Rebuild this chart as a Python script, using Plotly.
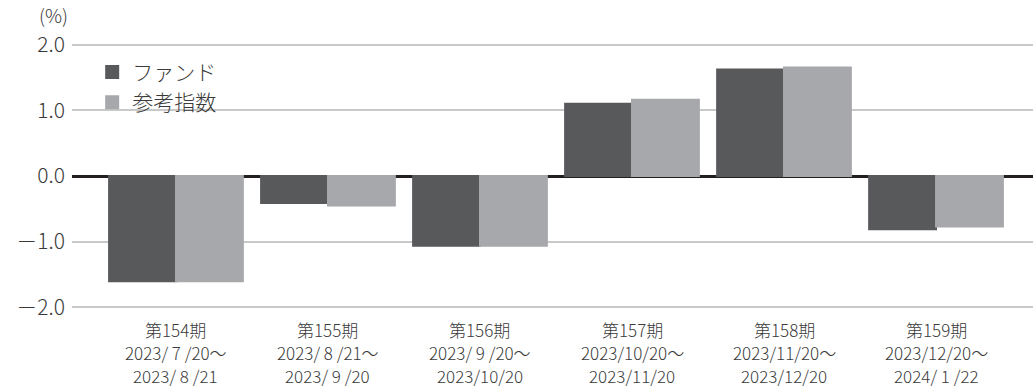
import plotly.graph_objects as go

periods = ["第154期", "第155期", "第156期", "第157期", "第158期", "第159期"]
start_dates = ["2023/ 7 /20～", "2023/ 8 /21～", "2023/ 9 /20～",
               "2023/10/20～", "2023/11/20～", "2023/12/20～"]
end_dates = ["2023/ 8 /21", "2023/ 9 /20", "2023/10/20",
             "2023/11/20", "2023/12/20", "2024/ 1 /22"]
fund = [-1.60, -0.41, -1.06, 1.10, 1.62, -0.81]
bench = [-1.60, -0.45, -1.06, 1.16, 1.65, -0.77]
ytick_vals = [-2, -1, 0, 1, 2]
ytick_text = ["－2.0", "－1.0", "0.0", "1.0", "2.0"]

FONT = "Noto Sans CJK JP"
TXT = "#3a3a3a"
FUND_C = "#58595b"
BENCH_C = "#a7a8ab"

fig = go.Figure()
fig.add_trace(go.Bar(x=periods, y=fund, name="ファンド",
                     marker=dict(color=FUND_C, line=dict(width=2, color=FUND_C))))
fig.add_trace(go.Bar(x=periods, y=bench, name="参考指数",
                     marker=dict(color=BENCH_C, line=dict(width=2, color=BENCH_C))))

annotations = []
for p, s, e in zip(periods, start_dates, end_dates):
    for k, t in enumerate([p, s, e]):
        annotations.append(dict(x=p, xref="x", y=0, yref="paper",
                                text=t, showarrow=False, yanchor="middle",
                                xanchor="center", yshift=-15 - 23 * k,
                                font=dict(family=FONT, size=17, color=TXT, weight=300)))
annotations.append(dict(x=-72 / 961, xref="paper", y=1, yref="paper",
                        xanchor="left", yanchor="bottom", yshift=8, xshift=37,
                        text="(%)", showarrow=False,
                        font=dict(family=FONT, size=19, color=TXT, weight=300)))

fig.update_layout(
    width=1033, height=387,
    margin=dict(l=72, r=0, t=38, b=73),
    paper_bgcolor="white", plot_bgcolor="white",
    barmode="group", bargap=0.12, bargroupgap=0,
    font=dict(family=FONT, color=TXT, weight=300),
    showlegend=True,
    legend=dict(x=0.021, xanchor="left", y=0.95, yanchor="top",
                bgcolor="rgba(0,0,0,0)", borderwidth=0,
                font=dict(family=FONT, size=21, color=TXT, weight=300),
                itemwidth=30, tracegroupgap=0),
    annotations=annotations,
    xaxis=dict(range=[-0.684, 5.638], showticklabels=False, showgrid=False,
               zeroline=False, showline=False, ticks=""),
    yaxis=dict(range=[-2.1, 2.1], tickvals=ytick_vals, ticktext=ytick_text,
               showgrid=True, gridcolor="#c9c9c9", gridwidth=2,
               zeroline=True, zerolinecolor="#231f20", zerolinewidth=2.5,
               showline=False, ticks="", ticklabelstandoff=6,
               tickfont=dict(family=FONT, size=21, color=TXT, weight=300)),
)

fig.write_html("out.html")
